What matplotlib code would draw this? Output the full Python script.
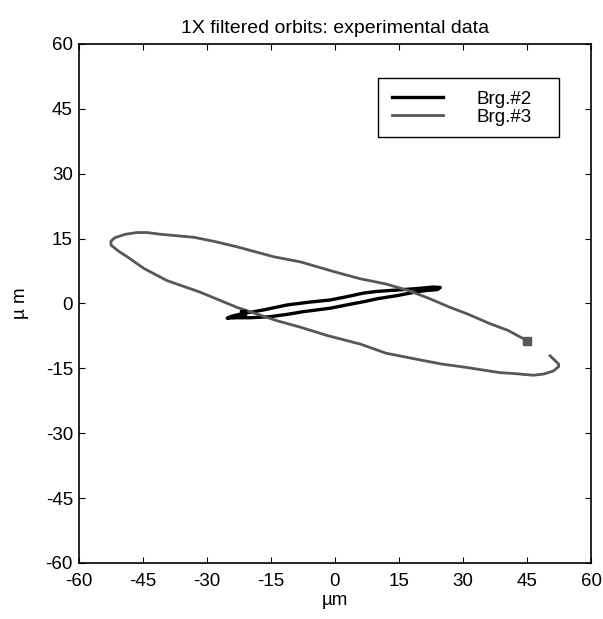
import matplotlib
matplotlib.use("Agg")
from matplotlib import pyplot as plt
from matplotlib.patches import Rectangle

plt.rcParams['font.family'] = ['Liberation Sans', 'DejaVu Sans']
plt.rcParams['axes.unicode_minus'] = False

# Brg.#3 orbit (um), starts at the square marker
x3 = [45, 40.5, 36.4, 31, 27, 22, 17.2, 12, 6, 0, -8, -14.3, -22.9, -28, -33, -40.8,
      -44, -46.3, -49, -51.5, -52.4, -52.4, -50.5, -48.6, -44.7, -39.3, -31.5, -22.9,
      -13.5, -8, -1.8, 6, 12, 19.2, 25, 30.9, 38.7, 42, 46.5, 49, 51.2, 52.4, 52.4, 50.4]
y3 = [-8.6, -6.2, -4.7, -2.4, -0.9, 1.2, 3.0, 4.5, 5.7, 7.3, 9.6, 10.8, 13.1, 14.3, 15.3, 16.0,
      16.4, 16.4, 16.0, 15.2, 14.4, 13.5, 12.0, 10.8, 8.1, 5.3, 2.6, -0.9,
      -4.0, -5.5, -7.4, -9.4, -11.5, -12.9, -14.0, -14.8, -16.0, -16.2, -16.6, -16.3, -15.6, -14.6, -14.0, -12.1]

# Brg.#2 orbit (um), starts at the square marker
x2 = [-21.4, -19, -16.7, -11.2, -6, -1.1, 3, 6.7, 10, 14.5, 20, 23, 24.7, 24, 21.5, 19.2,
      14.5, 10, 6.7, 3, -1.1, -7.4, -11, -15.1, -19.8, -23, -25.2, -24, -21.4]
y2 = [-2.3, -1.9, -1.5, -0.35, 0.3, 0.8, 1.6, 2.4, 2.8, 3.1, 3.5, 3.8, 3.7, 3.2, 3.0, 2.7,
      1.8, 1.1, 0.4, -0.3, -1.1, -1.9, -2.5, -3.05, -3.3, -3.3, -3.4, -2.9, -2.3]

ticks = [-60, -45, -30, -15, 0, 15, 30, 45, 60]

fig = plt.figure(figsize=(6.03, 6.19), dpi=100)
ax = fig.add_axes([0.1302, 0.0905, 0.850, 0.8385])

gray = '#575757'
ax.plot(x2, y2, color='black', lw=2.4, label='Brg.#2')
ax.plot(x3, y3, color=gray, lw=2.0, label='Brg.#3')
ax.plot(x2[0], y2[0], 's', color='black', ms=5)
ax.plot(x3[0], y3[0], 's', color=gray, ms=6)

ax.set_xlim(-60, 60)
ax.set_ylim(-60, 60)
ax.set_xticks(ticks)
ax.set_yticks(ticks)
ax.tick_params(direction='in', top=True, right=True, length=4, width=0.8,
               labelsize=13.5, colors='black')
ax.tick_params(axis='x', pad=7)
ax.tick_params(axis='y', pad=4)
for s in ax.spines.values():
    s.set_linewidth(1.2)

ax.set_title('1X filtered orbits: experimental data', fontsize=14, pad=8)
ax.set_xlabel('µm', fontsize=13.5, labelpad=2)
ax.set_ylabel('µ m', fontsize=13.5, labelpad=12)

# legend entries without frame, box drawn separately (MATLAB style wide box)
ax.legend(loc='upper left', bbox_to_anchor=(0.6117, 0.910), fontsize=13.5,
          handlelength=2.72, handletextpad=1.76, borderpad=0, borderaxespad=0,
          labelspacing=0.05, frameon=False)
ax.add_patch(Rectangle((0.5844, 0.8208), 0.3532, 0.1137, transform=ax.transAxes,
                       fill=False, edgecolor='black', lw=1.0, zorder=5))

fig.savefig('out.png', dpi=100)
